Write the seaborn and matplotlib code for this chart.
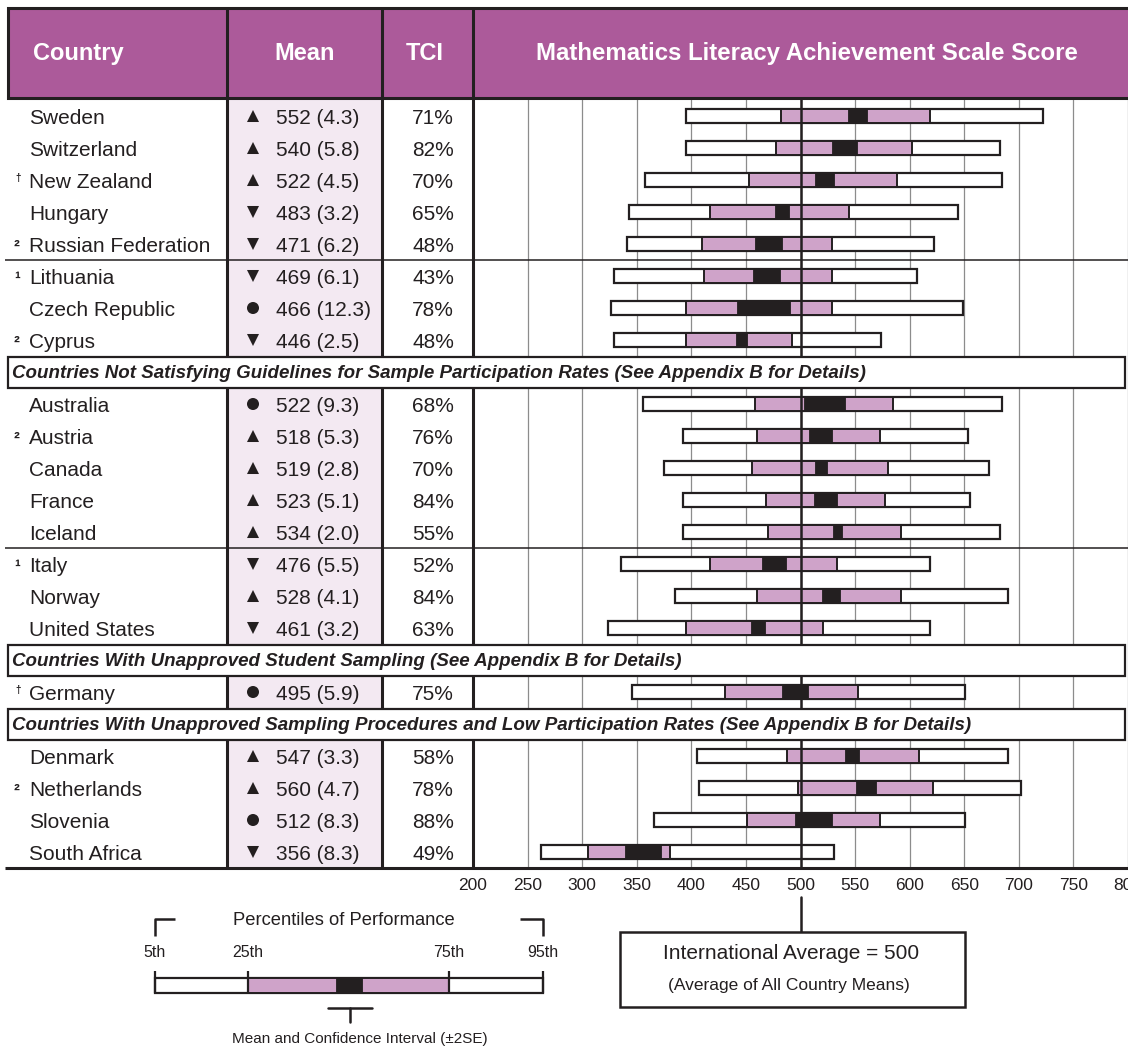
import matplotlib
matplotlib.use("Agg")
import matplotlib.pyplot as plt
from matplotlib.patches import Rectangle
import numpy as np
import pandas as pd
import seaborn as sns

# ---------------- data ----------------
countries = ["Sweden", "Switzerland", "New Zealand", "Hungary", "Russian Federation",
             "Lithuania", "Czech Republic", "Cyprus",
             "Australia", "Austria", "Canada", "France", "Iceland",
             "Italy", "Norway", "United States",
             "Germany",
             "Denmark", "Netherlands", "Slovenia", "South Africa"]
notes = ["", "", "\u2020", "", "\u00b2",
         "\u00b9", "", "\u00b2",
         "", "\u00b2", "", "", "",
         "\u00b9", "", "",
         "\u2020",
         "", "\u00b2", "", ""]
means = [552, 540, 522, 483, 471, 469, 466, 446,
         522, 518, 519, 523, 534, 476, 528, 461,
         495,
         547, 560, 512, 356]
std_errors = [4.3, 5.8, 4.5, 3.2, 6.2, 6.1, 12.3, 2.5,
              9.3, 5.3, 2.8, 5.1, 2.0, 5.5, 4.1, 3.2,
              5.9,
              3.3, 4.7, 8.3, 8.3]
significance = ["up", "up", "up", "down", "down", "down", "same", "down",
                "same", "up", "up", "up", "up", "down", "up", "down",
                "same",
                "up", "up", "same", "down"]
tci = [71, 82, 70, 65, 48, 43, 78, 48,
       68, 76, 70, 84, 55, 52, 84, 63,
       75,
       58, 78, 88, 49]
pct5 = [395, 395, 358, 343, 341, 329, 326, 329,
        356, 392, 375, 392, 392, 336, 385, 324,
        346,
        405, 407, 366, 262]
pct25 = [482, 478, 453, 417, 410, 412, 395, 395,
         458, 460, 456, 468, 470, 417, 460, 395,
         431,
         488, 498, 451, 305]
pct75 = [619, 602, 588, 544, 529, 529, 529, 492,
         585, 573, 580, 577, 592, 533, 592, 521,
         553,
         609, 621, 573, 380]
pct95 = [722, 683, 685, 644, 622, 607, 649, 574,
         685, 653, 673, 655, 683, 619, 690, 619,
         651,
         690, 702, 651, 531]

group_sizes = [8, 8, 1, 4]
group_banners = [None,
                 "Countries Not Satisfying Guidelines for Sample Participation Rates (See Appendix B for Details)",
                 "Countries With Unapproved Student Sampling (See Appendix B for Details)",
                 "Countries With Unapproved Sampling Procedures and Low Participation Rates (See Appendix B for Details)"]
divider_after = ["Russian Federation", "Iceland"]
column_titles = ["Country", "Mean", "TCI", "Mathematics Literacy Achievement Scale Score"]
scale_ticks = [200, 250, 300, 350, 400, 450, 500, 550, 600, 650, 700, 750, 800]
international_average = 500
legend_labels = ["5th", "25th", "75th", "95th"]

# ---------------- style ----------------
sns.set_theme(style="white")
plt.rcParams['font.family'] = ['Liberation Sans', 'DejaVu Sans']

DARK = '#231f20'
PURPLE = '#ac5a9a'
PINK = '#cfa3c9'
LAVENDER = '#f3e9f2'
GRID = '#8c8c8c'

W, H = 1128, 1048
fig = plt.figure(figsize=(W / 100, H / 100), dpi=100)
fig.patch.set_facecolor('white')

# layout (pixels)
HEAD_TOP, HEAD_BOT = 8, 98
FIRST, STEP = 116, 32
X_LEFT, X_C1, X_C2, X_C3 = 8, 227, 382, 473
TABLE_BOT = 868


def pixel_axes(z):
    a = fig.add_axes([0, 0, 1, 1], zorder=z)
    a.set_xlim(0, W)
    a.set_ylim(H, 0)
    a.axis('off')
    a.patch.set_alpha(0)
    return a


bg = pixel_axes(0)
top = pixel_axes(2)

# slot positions
row_y, banners = [], []
k = 0
for size, banner in zip(group_sizes, group_banners):
    if banner:
        banners.append((FIRST + STEP * k, banner))
        k += 1
    for _ in range(size):
        row_y.append(FIRST + STEP * k)
        k += 1

df = pd.DataFrame({"country": countries, "note": notes, "mean": means, "se": std_errors,
                   "sig": significance, "tci": tci, "p5": pct5, "p25": pct25,
                   "p75": pct75, "p95": pct95, "y": row_y})
df["marker_x"] = 253

# ---------------- background table ----------------
bg.add_patch(Rectangle((X_C1, HEAD_BOT), X_C2 - X_C1, TABLE_BOT - HEAD_BOT,
                       facecolor=LAVENDER, edgecolor='none'))

for _, r in df.iterrows():
    yb = r.y + 7.5
    bg.text(29, yb, r.country, fontsize=15, color=DARK, va='baseline', ha='left')
    if r.note == "\u2020":
        bg.text(15, yb - 7, r.note, fontsize=7, color=DARK, va='baseline', ha='left',
                fontweight='bold')
    elif r.note:
        bg.text(14, yb, r.note, fontsize=12.5, color=DARK, va='baseline', ha='left',
                fontweight='bold')
    bg.text(276, yb, f"{r['mean']} ({r.se:.1f})", fontsize=15, color=DARK,
            va='baseline', ha='left')
    bg.text(433, yb, f"{r.tci}%", fontsize=15, color=DARK, va='baseline', ha='center')

sns.scatterplot(data=df, x="marker_x", y="y", style="sig",
                markers={"up": "^", "down": "v", "same": "o"},
                color=DARK, s=75, edgecolor='none', legend=False, ax=bg)
bg.set_xlim(0, W)
bg.set_ylim(H, 0)
bg.axis('off')

# ---------------- chart axes ----------------
ax = fig.add_axes([X_C3 / W, 1 - TABLE_BOT / H, (W - X_C3) / W, (TABLE_BOT - HEAD_BOT) / H],
                  zorder=1)
ax.patch.set_alpha(0)
ax.set_xlim(scale_ticks[0], scale_ticks[-1])
ax.set_ylim(TABLE_BOT, HEAD_BOT)
for s in ax.spines.values():
    s.set_visible(False)
ax.set_xticks(scale_ticks)
ax.set_xticklabels([str(t) for t in scale_ticks])
ax.set_yticks([])
ax.tick_params(axis='x', length=0, pad=7, labelsize=12.5, labelcolor=DARK)
ax.grid(axis='x', color=GRID, lw=0.9)
ax.grid(axis='y', visible=False)
ax.set_axisbelow(True)

BH = 14
ax.barh(df.y, df.p95 - df.p5, left=df.p5, height=BH, color='white',
        edgecolor=DARK, lw=1.6, zorder=2)
ax.barh(df.y, df.p75 - df.p25, left=df.p25, height=BH, color=PINK,
        edgecolor=DARK, lw=1.4, zorder=3)
ax.barh(df.y, 4 * df.se, left=df["mean"] - 2 * df.se, height=BH, color=DARK,
        edgecolor=DARK, lw=0.6, zorder=4)
ax.axvline(international_average, color=DARK, lw=1.8, zorder=5)
ax.plot([international_average] * 2, [897, 933], color=DARK, lw=1.8, clip_on=False, zorder=5)

# ---------------- overlay: header, separators, banners ----------------
top.add_patch(Rectangle((X_LEFT, HEAD_TOP), W, HEAD_BOT - HEAD_TOP,
                        facecolor=PURPLE, edgecolor=DARK, lw=2.2, zorder=1))
top.vlines([X_C1, X_C2, X_C3], HEAD_TOP, TABLE_BOT, color=DARK, lw=2.2, zorder=2)
top.hlines(TABLE_BOT, 5, W, color=DARK, lw=2.2, zorder=2)
for name in divider_after:
    yd = row_y[countries.index(name)] + STEP / 2
    top.hlines(yd, 5, W, color=DARK, lw=1.1, zorder=2)

hy = (HEAD_TOP + HEAD_BOT) / 2 + 7
top.text(33, hy, column_titles[0], fontsize=17, fontweight='bold', color='white',
         ha='left', va='baseline', zorder=3)
top.text((X_C1 + X_C2) / 2, hy, column_titles[1], fontsize=17, fontweight='bold',
         color='white', ha='center', va='baseline', zorder=3)
top.text((X_C2 + X_C3) / 2 - 3, hy, column_titles[2], fontsize=17, fontweight='bold',
         color='white', ha='center', va='baseline', zorder=3)
top.text(807, hy, column_titles[3], fontsize=17.3, fontweight='bold',
         color='white', ha='center', va='baseline', zorder=3)

for yb, txt in banners:
    top.add_patch(Rectangle((X_LEFT, yb - 15.5), W - X_LEFT - 3, 31, facecolor='white',
                            edgecolor=DARK, lw=1.6, zorder=4))
    top.text(12, yb + 5.5, txt, fontsize=13.5, fontweight='bold', fontstyle='italic',
             color=DARK, ha='left', va='baseline', zorder=5)

# ---------------- international average box ----------------
top.add_patch(Rectangle((620, 932), 345, 75, facecolor='white', edgecolor=DARK, lw=1.8))
top.text(791, 959, "International Average = 500", fontsize=15, color=DARK,
         ha='center', va='baseline')
top.text(789, 990, "(Average of All Country Means)", fontsize=12.5, color=DARK,
         ha='center', va='baseline')

# ---------------- legend ----------------
L5, L25, LM0, LM1, L75, L95 = 155, 248, 336, 362, 449, 543
LB_T, LB_B = 978, 993
top.plot([L5, L5, L5 + 20], [936, 919, 919], color=DARK, lw=1.8, solid_capstyle='butt')
top.plot([L95 - 23, L95, L95], [919, 919, 936], color=DARK, lw=1.8, solid_capstyle='butt')
top.text(344, 925, "Percentiles of Performance", fontsize=13.2, color=DARK,
         ha='center', va='baseline')
for lx, lab in zip([L5, L25, L75, L95], legend_labels):
    top.text(lx, 957, lab, fontsize=11.5, color=DARK, ha='center', va='baseline')
top.add_patch(Rectangle((L5, LB_T), L95 - L5, LB_B - LB_T, facecolor='white',
                        edgecolor=DARK, lw=1.6))
top.add_patch(Rectangle((L25, LB_T), L75 - L25, LB_B - LB_T, facecolor=PINK,
                        edgecolor=DARK, lw=1.4))
top.add_patch(Rectangle((LM0, LB_T), LM1 - LM0, LB_B - LB_T, facecolor=DARK,
                        edgecolor=DARK, lw=0.6))
top.vlines([L5, L25, L75, L95], 971, LB_B, color=DARK, lw=1.6)
top.plot([328, 372], [1008, 1008], color=DARK, lw=1.8)
top.plot([350, 350], [1008, 1022], color=DARK, lw=1.8)
top.text(360, 1043, "Mean and Confidence Interval (\u00b12SE)", fontsize=11, color=DARK,
         ha='center', va='baseline')

fig.savefig("out.png", dpi=100)
